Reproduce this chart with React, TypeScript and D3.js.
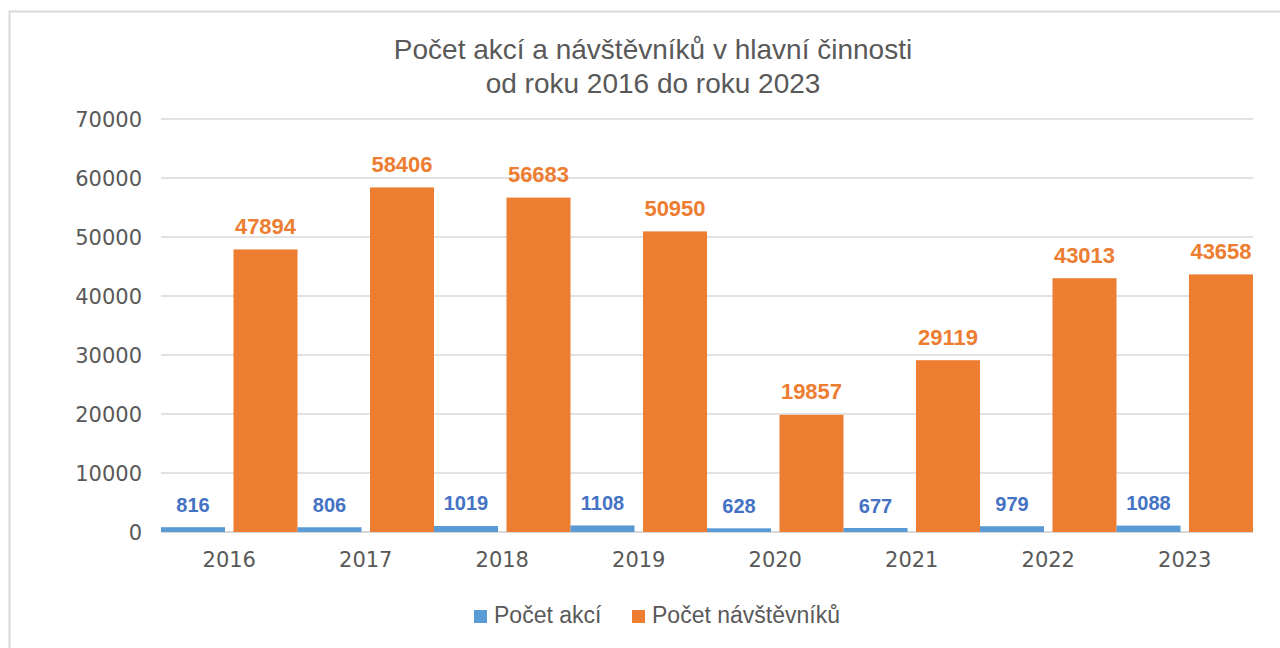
import React from "react";
import * as d3 from "d3";

const years = ["2016", "2017", "2018", "2019", "2020", "2021", "2022", "2023"];
const akce = [816, 806, 1019, 1108, 628, 677, 979, 1088];
const navstevniki = [47894, 58406, 56683, 50950, 19857, 29119, 43013, 43658];
const yTicks = [0, 10000, 20000, 30000, 40000, 50000, 60000, 70000];
const seriesNames = ["Počet akcí", "Počet návštěvníků"];
const titleLines = ["Počet akcí a návštěvníků v hlavní činnosti", "od roku 2016 do roku 2023"];

const W = 1280;
const H = 648;
const BLUE = "#5B9BD5";
const BLUE_LABEL = "#4472C4";
const ORANGE = "#ED7D31";
const GRAY = "#595959";
const GRID = "#d9d9d9";

export default function App() {
  const left = 161;
  const right = 1253;
  const x = d3.scaleBand<string>().domain(years).range([left, right]).paddingInner(0).paddingOuter(0);
  const xs = d3.scaleBand<string>().domain(["a", "n"]).range([0, x.bandwidth()]).paddingInner(0.117).paddingOuter(0);
  const y = d3.scaleLinear().domain([0, 70000]).range([532, 119]);

  return (
    <svg width={W} height={H} style={{ position: "absolute", left: 0, top: 0, background: "#fff" }}>
      <rect x={0} y={0} width={W} height={H} fill="#fff" />
      <rect x={9.5} y={11.5} width={1400} height={800} fill="none" stroke={GRID} strokeWidth={2} />
      {titleLines.map((t, i) => (
        <text key={t} x={653} y={59 + i * 34} textAnchor="middle" fontFamily="Liberation Sans, Arial, sans-serif" fontSize={28} fill={GRAY}>
          {t}
        </text>
      ))}
      {yTicks.map((v) => (
        <g key={v}>
          <line x1={left} x2={right} y1={y(v)} y2={y(v)} stroke={GRID} strokeWidth={v === 0 ? 2 : 1.6} />
          <text x={142} y={y(v)} dy="0.36em" textAnchor="end" fontFamily="DejaVu Sans, sans-serif" fontSize={21} fill={GRAY}>
            {v}
          </text>
        </g>
      ))}
      {years.map((yr, i) => {
        const x0 = x(yr)!;
        const xa = x0 + xs("a")!;
        const xn = x0 + xs("n")!;
        const bw = xs.bandwidth();
        return (
          <g key={yr}>
            <rect x={xa} y={y(akce[i])} width={bw} height={y(0) - y(akce[i])} fill={BLUE} />
            <rect x={xn} y={y(navstevniki[i])} width={bw} height={y(0) - y(navstevniki[i])} fill={ORANGE} />
            <text x={xa + bw / 2} y={y(akce[i]) - 15.5} textAnchor="middle" fontFamily="Liberation Sans, Arial, sans-serif" fontWeight="bold" fontSize={20} fill={BLUE_LABEL}>
              {akce[i]}
            </text>
            <text x={xn + bw / 2} y={y(navstevniki[i]) - 15.5} textAnchor="middle" fontFamily="Liberation Sans, Arial, sans-serif" fontWeight="bold" fontSize={22} fill={ORANGE}>
              {navstevniki[i]}
            </text>
            <text x={x0 + x.bandwidth() / 2} y={567} textAnchor="middle" fontFamily="DejaVu Sans, sans-serif" fontSize={21} fill={GRAY}>
              {yr}
            </text>
          </g>
        );
      })}
      <g>
        <rect x={474} y={610} width={13} height={13} fill={BLUE} />
        <text x={494} y={623} fontFamily="Liberation Sans, Arial, sans-serif" fontSize={23} fill={GRAY}>
          {seriesNames[0]}
        </text>
        <rect x={632} y={610} width={13} height={13} fill={ORANGE} />
        <text x={652} y={623} fontFamily="Liberation Sans, Arial, sans-serif" fontSize={23} fill={GRAY}>
          {seriesNames[1]}
        </text>
      </g>
    </svg>
  );
}
